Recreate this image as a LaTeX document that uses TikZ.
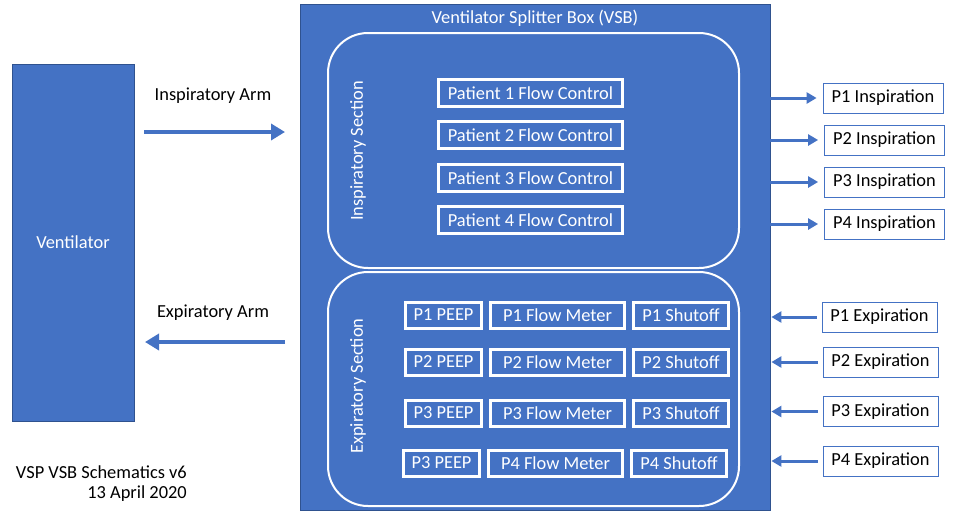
\documentclass[tikz,border=0pt]{standalone}
\usepackage{fontspec}
\setmainfont{Carlito}
\usetikzlibrary{arrows.meta}
\definecolor{vblue}{HTML}{4472C4}
\definecolor{vdark}{HTML}{2F528F}
\begin{document}
\begin{tikzpicture}[x=1pt,y=-1pt, font=\fontsize{18.4}{22}\selectfont,
  bluebox/.style={draw=vdark, fill=vblue, line width=0.8pt, inner sep=0pt, text=white},
  section/.style={draw=white, line width=2pt, rounded corners=40pt, inner sep=0pt},
  wbox/.style={draw=white, line width=3pt, text=white, inner sep=0pt, minimum height=27pt},
  pbox/.style={draw=vblue, line width=0.8pt, fill=white, inner sep=0pt, minimum height=30pt},
  bigarrow/.style={draw=vblue, line width=4pt, -{Triangle[length=14pt,width=16pt]}},
  smallarrow/.style={draw=vblue, line width=3pt, -{Triangle[length=10pt,width=11pt]}},
  wlabel/.style={text=white, inner sep=0pt}]
\path[use as bounding box] (0,0) rectangle (964,523);

% Ventilator
\node[bluebox, minimum width=122pt, minimum height=357pt] (vent) at (73,242.5) {Ventilator};

% VSB
\node[bluebox, minimum width=470pt, minimum height=506pt] (vsb) at (535,257) {};
\node[wlabel] (title) at (535,18) {Ventilator Splitter Box (VSB)};

% Sections
\node[section, minimum width=411pt, minimum height=235pt] (insp) at (533.5,150.5) {};
\node[section, minimum width=411pt, minimum height=234pt] (exp) at (533.5,389) {};
\node[wlabel, rotate=90] (insplab) at (358,151) {Inspiratory Section};
\node[wlabel, rotate=90] (explab) at (358,386) {Expiratory Section};

% Flow controls
\node[wbox, minimum width=184pt] (fc1) at (530.5,93) {Patient 1 Flow Control};
\node[wbox, minimum width=184pt] (fc2) at (530.5,135) {Patient 2 Flow Control};
\node[wbox, minimum width=184pt] (fc3) at (530.5,178) {Patient 3 Flow Control};
\node[wbox, minimum width=184pt] (fc4) at (530.5,220) {Patient 4 Flow Control};

% Expiratory rows
\node[wbox, minimum width=76pt, minimum height=26pt] (pe1) at (443.5,315) {P1 PEEP};
\node[wbox, minimum width=134pt, minimum height=26pt] (fm1) at (557.5,315) {P1 Flow Meter};
\node[wbox, minimum width=95pt, minimum height=26pt] (so1) at (681,315) {P1 Shutoff};
\node[wbox, minimum width=76pt, minimum height=26pt] (pe2) at (443.5,362) {P2 PEEP};
\node[wbox, minimum width=134pt, minimum height=26pt] (fm2) at (557.5,362) {P2 Flow Meter};
\node[wbox, minimum width=95pt, minimum height=26pt] (so2) at (681,362) {P2 Shutoff};
\node[wbox, minimum width=76pt, minimum height=26pt] (pe3) at (443.5,413) {P3 PEEP};
\node[wbox, minimum width=134pt, minimum height=26pt] (fm3) at (557.5,413) {P3 Flow Meter};
\node[wbox, minimum width=95pt, minimum height=26pt] (so3) at (681,413) {P3 Shutoff};
\node[wbox, minimum width=76pt, minimum height=26pt] (pe4) at (441.5,463) {P3 PEEP};
\node[wbox, minimum width=134pt, minimum height=26pt] (fm4) at (555.5,463) {P4 Flow Meter};
\node[wbox, minimum width=95pt, minimum height=26pt] (so4) at (679,463) {P4 Shutoff};

% Patient inspiration boxes
\node[pbox, minimum width=120pt] (pi1) at (883,98) {P1 Inspiration};
\node[pbox, minimum width=120pt] (pi2) at (884.5,140) {P2 Inspiration};
\node[pbox, minimum width=120pt] (pi3) at (884.5,182) {P3 Inspiration};
\node[pbox, minimum width=120pt] (pi4) at (884.5,224) {P4 Inspiration};

% Patient expiration boxes
\node[pbox, minimum width=115pt] (px1) at (879.5,317) {P1 Expiration};
\node[pbox, minimum width=115pt] (px2) at (880.5,362) {P2 Expiration};
\node[pbox, minimum width=115pt] (px3) at (880.5,411.5) {P3 Expiration};
\node[pbox, minimum width=115pt] (px4) at (880.5,461) {P4 Expiration};

% Small arrows
\foreach \i in {1,2,3,4}{
  \draw[smallarrow] (vsb.east |- pi\i.west) -- ([xshift=-6pt]pi\i.west);
  \draw[smallarrow] ([xshift=-5pt]px\i.west) -- ([xshift=1pt]vsb.east |- px\i.west);
}

% Arms
\node (ialab) at (213,96) {Inspiratory Arm};
\node (ealab) at (213,313) {Expiratory Arm};
\coordinate (ia1) at (144,132);
\coordinate (ia2) at (285,132);
\coordinate (ea1) at (285,342);
\coordinate (ea2) at (145,342);
\draw[bigarrow] (ia1) -- (ia2);
\draw[bigarrow] (ea1) -- (ea2);

% Footer
\node[align=right, anchor=east, inner sep=0pt, font=\fontsize{18.4}{20}\selectfont] (foot) at (187,484) {VSP VSB Schematics v6\\13 April 2020};
\end{tikzpicture}
\end{document}
